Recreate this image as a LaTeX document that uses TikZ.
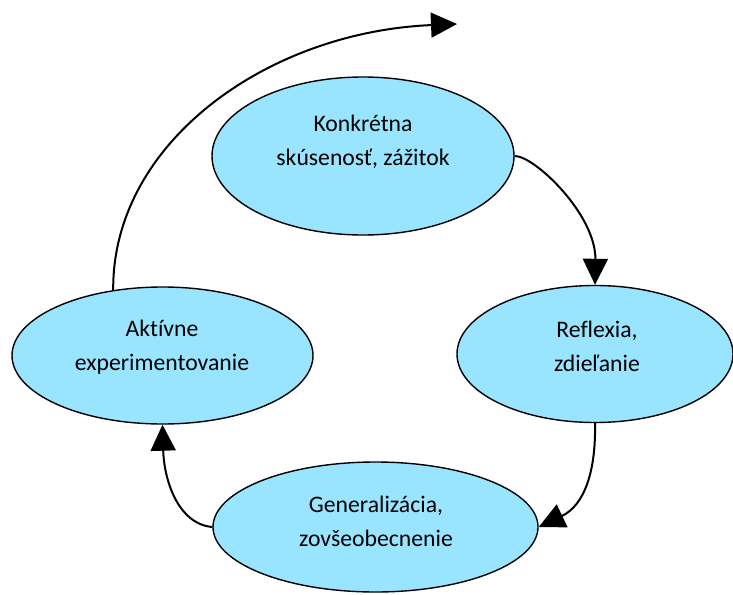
\documentclass[tikz,border=0pt]{standalone}
\usepackage{fontspec}
\setmainfont{Carlito}[Ligatures=NoCommon]
\usetikzlibrary{shapes.geometric,arrows.meta}
\definecolor{fillblue}{RGB}{153,229,255}
\begin{document}
\begin{tikzpicture}[x=1pt,y=-1pt,
  bubble/.style={ellipse, draw=black, line width=1.4pt, fill=fillblue, inner sep=0pt},
  lbl/.style={align=center, inner sep=0pt, font=\fontsize{23.7}{34}\selectfont, text=black},
  flow/.style={line width=2pt, -{Triangle[length=26pt,width=25pt]}}]
\useasboundingbox (0,0) rectangle (733,594);
\node[bubble, minimum width=302pt, minimum height=158pt] (konk) at (363,156) {};
\node[bubble, minimum width=276pt, minimum height=137pt] (refl) at (595,354) {};
\node[bubble, minimum width=325pt, minimum height=130pt] (gen) at (375.5,527) {};
\node[bubble, minimum width=301pt, minimum height=137pt] (akt) at (162.5,355.5) {};
\node[lbl] (tkonk) at (363,142) {Konkrétna\\skúsenosť, zážitok};
\node[lbl] (trefl) at (597,346) {Reflexia,\\zdieľanie};
\node[lbl] (tgen) at (376,521.5) {Generalizácia,\\zovšeobecnenie};
\node[lbl] (takt) at (162,347.5) {Aktívne\\experimentovanie};
\coordinate (topend) at (457,24);
\draw[flow] (konk.east) .. controls (535,156) and (596,215) .. (refl.north);
\draw[flow] (refl.south) .. controls (596,470) and (585,505) .. (gen.east);
\draw[flow] (gen.west) .. controls (178,524) and (164,480) .. (akt.south);
\draw[flow] (akt.127) .. controls (112,143) and (267,32) .. (topend);
\end{tikzpicture}
\end{document}
